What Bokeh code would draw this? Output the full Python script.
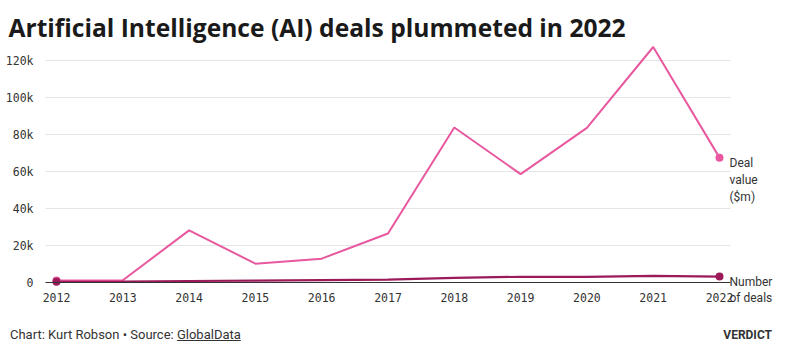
from bokeh.plotting import figure
from bokeh.models import Range1d, FixedTicker, Label, Div
from bokeh.layouts import column
from bokeh.embed import file_html
from bokeh.resources import INLINE

years = [2012, 2013, 2014, 2015, 2016, 2017, 2018, 2019, 2020, 2021, 2022]
deal_value = [1100, 1200, 28200, 10200, 12900, 26500, 83800, 58600, 83600, 127300, 67500]
num_deals = [400, 500, 800, 1000, 1300, 1600, 2500, 3100, 3000, 3600, 3200]
y_ticks = [0, 20000, 40000, 60000, 80000, 100000, 120000]
y_tick_labels = ["0", "20k", "40k", "60k", "80k", "100k", "120k"]

PINK = "#e8589f"
DARK = "#9b1a5a"
MONO = "DejaVu Sans Mono"
SANS = "Roboto"

# scale: 66.3 px per year, 0.00185 px per unit of value
PX_YEAR = 66.3
PX_VAL = 0.00185
FIG_W, FIG_H = 788, 312
x_start = 2012 - 56 / PX_YEAR
x_end = x_start + FIG_W / PX_YEAR
y_start = -(FIG_H - 282) / PX_VAL
y_end = 282 / PX_VAL
X0, X1 = 2012 - 11 / PX_YEAR, 2022 + 11 / PX_YEAR   # extent of grid / baseline

p = figure(width=FIG_W, height=FIG_H, output_backend="svg", toolbar_location=None,
           x_range=Range1d(x_start, x_end), y_range=Range1d(y_start, y_end),
           min_border=0, margin=0)
p.outline_line_color = None
p.background_fill_color = "white"
p.border_fill_color = "white"
p.xgrid.grid_line_color = None
p.ygrid.grid_line_color = None

p.segment(x0=[X0] * len(y_ticks[1:]), x1=[X1] * len(y_ticks[1:]), y0=y_ticks[1:], y1=y_ticks[1:],
          line_color="#e6e6e6", line_width=1)

p.yaxis.fixed_location = X0
p.yaxis.ticker = FixedTicker(ticks=y_ticks)
p.yaxis.major_label_overrides = {t: l for t, l in zip(y_ticks, y_tick_labels)}
p.yaxis.axis_line_color = None
p.yaxis.major_tick_line_color = None
p.yaxis.minor_tick_line_color = None
p.yaxis.major_label_standoff = 6
p.yaxis.major_label_text_font = MONO
p.yaxis.major_label_text_font_size = "11.5px"
p.yaxis.major_label_text_color = "#333333"

p.xaxis.fixed_location = 0
p.xaxis.ticker = FixedTicker(ticks=years)
p.xaxis.bounds = (X0, X1)
p.xaxis.axis_line_color = "#333333"
p.xaxis.axis_line_width = 1
p.xaxis.major_tick_line_color = None
p.xaxis.minor_tick_line_color = None
p.xaxis.major_label_standoff = 4
p.xaxis.major_label_text_font = MONO
p.xaxis.major_label_text_font_size = "11.5px"
p.xaxis.major_label_text_color = "#333333"

p.line(years, deal_value, line_color=PINK, line_width=2)
p.line(years, num_deals, line_color=DARK, line_width=2.2)
p.scatter([years[0], years[-1]], [deal_value[0], deal_value[-1]], size=8, fill_color=PINK, line_color=None)
p.scatter([years[0], years[-1]], [num_deals[0], num_deals[-1]], size=8, fill_color=DARK, line_color=None)

for i, t in enumerate(["Deal", "value", "($m)"]):
    p.add_layout(Label(text=t, x=years[-1], y=deal_value[-1], x_offset=10, y_offset=-5 - 17 * i,
                       text_baseline="middle", text_font=SANS, text_font_size="12px", text_color="#333333"))
for i, t in enumerate(["Number", "of deals"]):
    p.add_layout(Label(text=t, x=years[-1], y=num_deals[-1], x_offset=10, y_offset=-5 - 16 * i,
                       text_baseline="middle", text_font=SANS, text_font_size="12px", text_color="#333333"))

p.add_layout(Label(text="Artificial Intelligence (AI) deals plummeted in 2022",
                   x=8, y=FIG_H - 27, x_units="screen", y_units="screen", text_baseline="alphabetic",
                   text_font="Open Sans", text_font_size="24.6px", text_font_style="bold",
                   text_color="#1a1a1a"))

footer = Div(text='<div style="position:relative;width:788px;height:40px;font-family:Roboto;font-size:13px;color:#333;">'
                  '<span style="position:absolute;left:10px;top:14px;">Chart: Kurt Robson \u2022 Source: '
                  '<span style="text-decoration:underline;">GlobalData</span></span>'
                  '<span style="position:absolute;right:16px;top:15px;font-weight:bold;font-size:12px;">VERDICT</span>'
                  '</div>',
             width=788, height=40, margin=0)

layout = column(p, footer, spacing=0, margin=0)
open("out.html", "w").write(file_html(layout, INLINE))
